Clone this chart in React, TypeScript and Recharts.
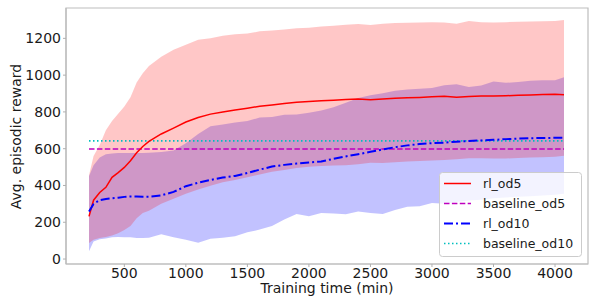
import React from 'react';
import { ComposedChart, Area, Line, XAxis, YAxis, ReferenceArea, Legend } from 'recharts';

const FONT = 'DejaVu Sans, Verdana, sans-serif';

const xs = [213, 250, 300, 350, 400, 450, 500, 550, 600, 650, 700, 800, 900, 1000, 1100, 1200, 1300, 1400, 1500, 1600, 1700, 1800, 1900, 2000, 2100, 2200, 2300, 2400, 2500, 2600, 2700, 2800, 2900, 3000, 3100, 3200, 3300, 3400, 3500, 3600, 3700, 3800, 3900, 4000, 4073];

const rlOd5 = [232, 320, 362, 390, 444, 470, 498, 535, 578, 612, 640, 680, 712, 745, 770, 788, 800, 810, 820, 831, 838, 846, 853, 857, 860, 864, 867, 870, 866, 870, 874, 877, 879, 882, 885, 880, 884, 886, 887, 888, 890, 892, 894, 896, 893];
const rlOd5Low = [87, 105, 114, 120, 128, 140, 158, 180, 222, 250, 262, 300, 328, 355, 378, 398, 418, 430, 445, 460, 475, 484, 495, 502, 506, 508, 510, 515, 524, 522, 526, 531, 533, 536, 538, 542, 548, 548, 546, 546, 550, 552, 554, 556, 562];
const rlOd5High = [455, 560, 620, 700, 750, 790, 830, 880, 960, 1010, 1050, 1100, 1138, 1165, 1192, 1200, 1214, 1222, 1226, 1238, 1243, 1248, 1255, 1258, 1264, 1268, 1274, 1278, 1272, 1280, 1283, 1285, 1286, 1287, 1286, 1280, 1294, 1288, 1286, 1288, 1290, 1291, 1293, 1294, 1300];

const rlOd10 = [259, 300, 320, 327, 330, 333, 338, 340, 340, 339, 339, 346, 365, 396, 415, 430, 443, 452, 468, 486, 503, 512, 519, 525, 530, 545, 558, 570, 583, 596, 608, 618, 625, 630, 633, 638, 642, 645, 648, 652, 655, 657, 658, 659, 659];
const rlOd10Low = [42, 95, 108, 112, 118, 120, 118, 118, 115, 114, 116, 135, 118, 105, 88, 110, 116, 124, 145, 160, 180, 215, 245, 233, 250, 248, 244, 258, 250, 245, 266, 284, 287, 305, 300, 310, 318, 322, 330, 335, 338, 342, 346, 350, 355];
const rlOd10High = [450, 510, 552, 570, 574, 576, 576, 576, 577, 577, 578, 582, 590, 630, 680, 722, 732, 742, 750, 770, 772, 785, 786, 795, 808, 825, 850, 875, 890, 902, 915, 922, 926, 930, 945, 950, 936, 944, 965, 958, 962, 970, 972, 972, 988];

const baselineOd5 = 598;
const baselineOd10 = 643;

const xTicks = [500, 1000, 1500, 2000, 2500, 3000, 3500, 4000];
const yTicks = [0, 200, 400, 600, 800, 1000, 1200];

const legendItems = [
  { name: 'rl_od5', color: '#ff0000', dash: undefined as string | undefined, width: 1.5 },
  { name: 'baseline_od5', color: '#bf00bf', dash: '5.5 2.4', width: 1.5 },
  { name: 'rl_od10', color: '#0000ff', dash: '9 3 2 3', width: 2 },
  { name: 'baseline_od10', color: '#00bfbf', dash: '1.5 2.5', width: 1.5 },
];

const data = xs.map((x, i) => ({
  x,
  rl5: rlOd5[i],
  band5: [rlOd5Low[i], rlOd5High[i]],
  rl10: rlOd10[i],
  band10: [rlOd10Low[i], rlOd10High[i]],
  base5: baselineOd5,
  base10: baselineOd10,
}));

const X_DOMAIN: [number, number] = [26, 4268];
const Y_DOMAIN: [number, number] = [-27, 1365];

const LegendBox = () => (
  <svg width={144} height={86} style={{ display: 'block' }}>
    <rect x={0.5} y={0.5} width={142} height={84} rx={3} ry={3} fill="#ffffff" fillOpacity={0.8} stroke="#cccccc" strokeWidth={1} />
    {legendItems.map((it, i) => {
      const cy = 11.5 + i * 20;
      return (
        <g key={it.name}>
          <line x1={5} x2={32} y1={cy} y2={cy} stroke={it.color} strokeWidth={it.width} strokeDasharray={it.dash} />
          <text x={44} y={cy} dominantBaseline="central" fontSize={12.5} fontFamily={FONT} fill="#1a1a1a">{it.name}</text>
        </g>
      );
    })}
  </svg>
);

export default function App() {
  return (
    <div style={{ position: 'absolute', left: 0, top: 0, width: 589, height: 297 }}>
      <ComposedChart width={589} height={297} data={data} margin={{ top: 8, right: 1, bottom: 0, left: 0 }}>
        <XAxis
          type="number"
          dataKey="x"
          domain={X_DOMAIN}
          ticks={xTicks}
          allowDataOverflow
          height={33}
          tickSize={3}
          tickMargin={1}
          tickLine={{ stroke: '#b0b0b0' }}
          axisLine={{ stroke: '#bdbdbd', strokeWidth: 1.2 }}
          tick={{ fill: '#1a1a1a', fontSize: 14, fontFamily: FONT }}
          label={{ value: 'Training time (min)', position: 'insideBottom', offset: 4.5, fill: '#1a1a1a', fontSize: 14, fontFamily: FONT }}
        />
        <YAxis
          type="number"
          domain={Y_DOMAIN}
          ticks={yTicks}
          allowDataOverflow
          width={66}
          tickSize={3}
          tickMargin={2}
          tickLine={{ stroke: '#b0b0b0' }}
          axisLine={{ stroke: '#bdbdbd', strokeWidth: 1.2 }}
          tick={{ fill: '#1a1a1a', fontSize: 14, fontFamily: FONT }}
          label={{
            content: () => (
              <text x={21} y={136.5} transform="rotate(-90 21 136.5)" textAnchor="middle" fontSize={14} fontFamily={FONT} fill="#1a1a1a">
                Avg. episodic reward
              </text>
            ),
          }}
        />
        <Area type="linear" dataKey="band10" stroke="none" fill="#0000ff" fillOpacity={0.24} isAnimationActive={false} activeDot={false} />
        <Area type="linear" dataKey="band5" stroke="none" fill="#ff0000" fillOpacity={0.22} isAnimationActive={false} activeDot={false} />
        <Line type="linear" dataKey="base5" stroke="#bf00bf" strokeWidth={1.5} strokeDasharray="5.5 2.4" dot={false} activeDot={false} isAnimationActive={false} />
        <Line type="linear" dataKey="base10" stroke="#00bfbf" strokeWidth={1.8} strokeDasharray="1.5 2.5" dot={false} activeDot={false} isAnimationActive={false} />
        <Line type="linear" dataKey="rl5" stroke="#ff0000" strokeWidth={1.5} dot={false} activeDot={false} isAnimationActive={false} />
        <Line type="linear" dataKey="rl10" stroke="#0000ff" strokeWidth={2} strokeDasharray="9 3 2 3" dot={false} activeDot={false} isAnimationActive={false} />
        <ReferenceArea x1={X_DOMAIN[0]} x2={X_DOMAIN[1]} y1={Y_DOMAIN[0]} y2={Y_DOMAIN[1]} fill="none" stroke="#bdbdbd" strokeWidth={1.2} ifOverflow="visible" />
        <Legend
          layout="horizontal"
          verticalAlign="middle"
          align="center"
          wrapperStyle={{ position: 'absolute', left: 439, top: 172, width: 144, height: 86, margin: 0, padding: 0 }}
          content={() => <LegendBox />}
        />
      </ComposedChart>
    </div>
  );
}
